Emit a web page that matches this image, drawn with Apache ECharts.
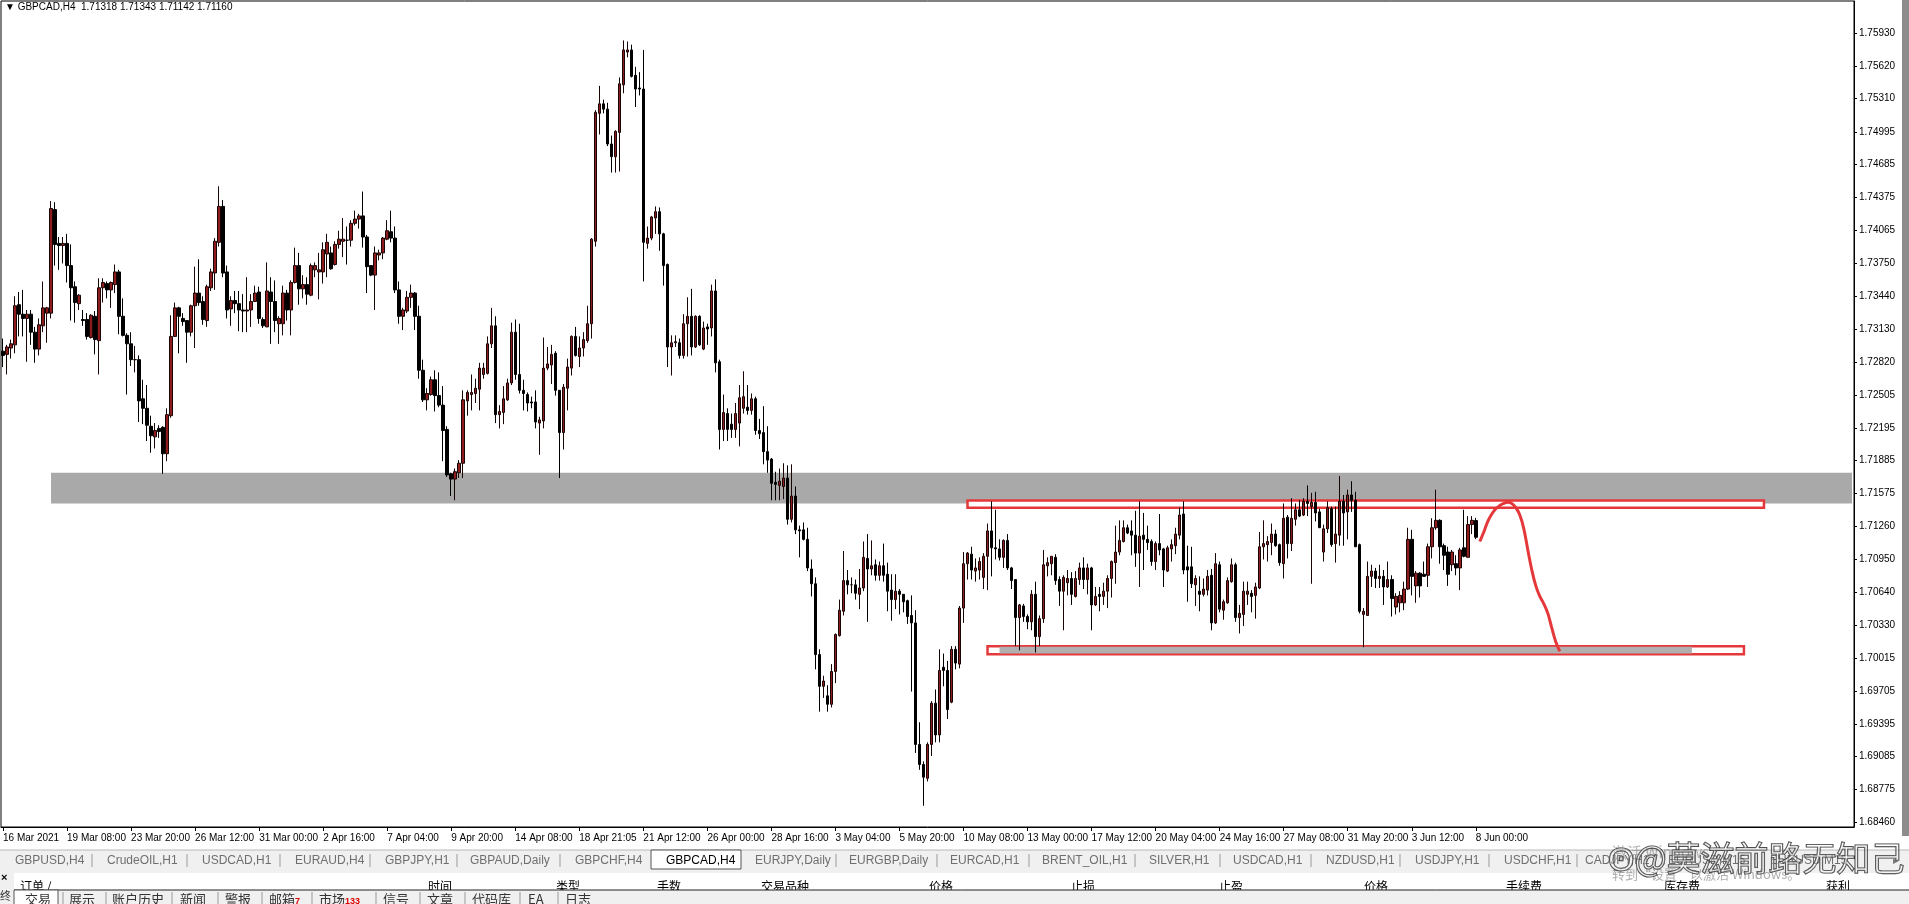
<!DOCTYPE html>
<html><head><meta charset="utf-8">
<script src="https://cdn.jsdelivr.net/npm/echarts@6/dist/echarts.min.js"></script>
<style>html,body{margin:0;padding:0;background:#fff;overflow:hidden}#c{width:1909px;height:904px}</style>
</head><body><div id="c"></div>
<script>
const headerText = 'GBPCAD,H4  1.71318 1.71343 1.71142 1.71160';
const xTickLabels = ['16 Mar 2021','19 Mar 08:00','23 Mar 20:00','26 Mar 12:00','31 Mar 00:00','2 Apr 16:00','7 Apr 04:00','9 Apr 20:00','14 Apr 08:00','18 Apr 21:05','21 Apr 12:00','26 Apr 00:00','28 Apr 16:00','3 May 04:00','5 May 20:00','10 May 08:00','13 May 00:00','17 May 12:00','20 May 04:00','24 May 16:00','27 May 08:00','31 May 20:00','3 Jun 12:00','8 Jun 00:00'];
const yTickLabels = ['1.75930','1.75620','1.75310','1.74995','1.74685','1.74375','1.74065','1.73750','1.73440','1.73130','1.72820','1.72505','1.72195','1.71885','1.71575','1.71260','1.70950','1.70640','1.70330','1.70015','1.69705','1.69395','1.69085','1.68775','1.68460'];
const opens = [
1.7292,1.7289,1.7295,1.7298,1.7336,1.7327,1.7323,1.7327,1.7310,1.7294,1.7316,1.7328,1.7328,1.7426,1.7394,1.7392,1.7394,1.7373,1.7353,1.7337,
1.7322,1.7322,1.7305,1.7325,1.7302,1.7352,1.7356,1.7350,1.7355,1.7367,1.7325,1.7307,1.7299,1.7284,1.7284,1.7247,1.7238,1.7221,1.7211,1.7219,
1.7220,1.7195,1.7231,1.7306,1.7333,1.7323,1.7321,1.7310,1.7335,1.7347,1.7339,1.7321,1.7352,1.7366,1.7395,1.7429,1.7367,1.7332,1.7340,1.7337,
1.7331,1.7330,1.7331,1.7339,1.7348,1.7322,1.7315,1.7348,1.7339,1.7318,1.7318,1.7347,1.7331,1.7357,1.7373,1.7351,1.7355,1.7345,1.7369,1.7367,
1.7367,1.7384,1.7385,1.7374,1.7393,1.7396,1.7397,1.7397,1.7413,1.7417,1.7420,1.7400,1.7373,1.7364,1.7383,1.7385,1.7398,1.7405,1.7399,1.7350,
1.7325,1.7330,1.7343,1.7347,1.7325,1.7274,1.7246,1.7251,1.7265,1.7250,1.7241,1.7218,1.7176,1.7171,1.7177,1.7186,1.7245,1.7251,1.7252,1.7256,
1.7270,1.7271,1.7299,1.7316,1.7232,1.7234,1.7246,1.7262,1.7310,1.7270,1.7255,1.7251,1.7244,1.7244,1.7224,1.7226,1.7276,1.7279,1.7290,1.7255,
1.7215,1.7257,1.7276,1.7306,1.7287,1.7295,1.7302,1.7318,1.7396,1.7517,1.7526,1.7521,1.7488,1.7476,1.7499,1.7544,1.7575,1.7577,1.7553,1.7541,
1.7540,1.7394,1.7399,1.7418,1.7424,1.7403,1.7374,1.7296,1.7300,1.7300,1.7288,1.7318,1.7325,1.7296,1.7325,1.7294,1.7315,1.7314,1.7349,1.7282,
1.7218,1.7233,1.7223,1.7218,1.7224,1.7238,1.7239,1.7236,1.7247,1.7217,1.7215,1.7197,1.7190,1.7168,1.7165,1.7164,1.7172,1.7133,1.7155,1.7123,
1.7123,1.7114,1.7086,1.7072,1.7005,1.6975,1.6966,1.6958,1.6989,1.7023,1.7046,1.7075,1.7071,1.7071,1.7062,1.7068,1.7096,1.7086,1.7090,1.7080,
1.7089,1.7081,1.7066,1.7057,1.7065,1.7062,1.7056,1.7042,1.7035,1.6920,1.6901,1.6888,1.6920,1.6959,1.6929,1.6993,1.6990,1.6960,1.7010,1.6996,
1.7049,1.7091,1.7100,1.7084,1.7085,1.7078,1.7098,1.7122,1.7106,1.7105,1.7097,1.7113,1.7087,1.7076,1.7040,1.7051,1.7041,1.7036,1.7062,1.7022,
1.7039,1.7089,1.7091,1.7097,1.7076,1.7065,1.7073,1.7077,1.7060,1.7076,1.7087,1.7076,1.7087,1.7052,1.7062,1.7060,1.7065,1.7077,1.7092,1.7102,
1.7112,1.7125,1.7122,1.7118,1.7101,1.7118,1.7114,1.7112,1.7093,1.7110,1.7105,1.7084,1.7105,1.7108,1.7118,1.7138,1.7088,1.7088,1.7071,1.7065,
1.7062,1.7066,1.7080,1.7035,1.7090,1.7047,1.7054,1.7074,1.7090,1.7040,1.7043,1.7062,1.7063,1.7061,1.7068,1.7107,1.7109,1.7111,1.7119,1.7109,
1.7091,1.7135,1.7110,1.7133,1.7142,1.7137,1.7150,1.7145,1.7149,1.7140,1.7102,1.7124,1.7143,1.7110,1.7118,1.7150,1.7140,1.7156,1.7151,1.7109,
1.7043,1.7042,1.7079,1.7084,1.7077,1.7079,1.7069,1.7076,1.7050,1.7054,1.7054,1.7067,1.7114,1.7070,1.7082,1.7081,1.7080,1.7107,1.7125,1.7132,
1.7108,1.7102,1.7090,1.7091,1.7087,1.7106,1.7097,1.7128,1.71318];
const highs = [
1.7304,1.7298,1.7303,1.7344,1.7348,1.7350,1.7331,1.7331,1.7315,1.7323,1.7358,1.7334,1.7434,1.7433,1.7400,1.7400,1.7403,1.7393,1.7358,1.7346,
1.7331,1.7328,1.7327,1.7330,1.7361,1.7361,1.7358,1.7358,1.7374,1.7369,1.7342,1.7309,1.7310,1.7297,1.7288,1.7265,1.7260,1.7231,1.7224,1.7222,
1.7221,1.7238,1.7326,1.7338,1.7334,1.7328,1.7321,1.7336,1.7372,1.7379,1.7344,1.7355,1.7370,1.7399,1.7448,1.7435,1.7373,1.7344,1.7349,1.7349,
1.7346,1.7362,1.7346,1.7354,1.7353,1.7324,1.7376,1.7362,1.7359,1.7325,1.7354,1.7350,1.7359,1.7390,1.7385,1.7364,1.7362,1.7375,1.7376,1.7385,
1.7395,1.7403,1.7391,1.7396,1.7406,1.7418,1.7410,1.7416,1.7425,1.7422,1.7443,1.7402,1.7373,1.7391,1.7388,1.7400,1.7416,1.7425,1.7410,1.7358,
1.7333,1.7349,1.7355,1.7348,1.7335,1.7284,1.7257,1.7268,1.7274,1.7272,1.7259,1.7221,1.7177,1.7181,1.7189,1.7255,1.7255,1.7270,1.7266,1.7281,
1.7281,1.7306,1.7333,1.7325,1.7241,1.7259,1.7266,1.7319,1.7322,1.7318,1.7265,1.7253,1.7249,1.7255,1.7230,1.7305,1.7296,1.7298,1.7292,1.7255,
1.7261,1.7285,1.7307,1.7315,1.7306,1.7310,1.7335,1.7399,1.7520,1.7543,1.7530,1.7527,1.7496,1.7501,1.7551,1.7586,1.7585,1.7582,1.7561,1.7556,
1.7577,1.7410,1.7420,1.7429,1.7428,1.7404,1.7375,1.7307,1.7307,1.7304,1.7327,1.7343,1.7351,1.7326,1.7326,1.7320,1.7318,1.7355,1.7360,1.7284,
1.7251,1.7238,1.7233,1.7243,1.7260,1.7273,1.7260,1.7252,1.7249,1.7228,1.7240,1.7221,1.7191,1.7178,1.7181,1.7186,1.7184,1.7185,1.7164,1.7127,
1.7130,1.7125,1.7095,1.7078,1.7010,1.6985,1.6976,1.6996,1.7025,1.7057,1.7103,1.7085,1.7078,1.7076,1.7086,1.7112,1.7119,1.7113,1.7095,1.7093,
1.7110,1.7092,1.7081,1.7081,1.7067,1.7062,1.7057,1.7061,1.7047,1.6941,1.6904,1.6922,1.6961,1.6972,1.7010,1.7006,1.6999,1.7013,1.7013,1.7051,
1.7102,1.7102,1.7107,1.7096,1.7097,1.7101,1.7129,1.7150,1.7142,1.7114,1.7114,1.7119,1.7088,1.7076,1.7053,1.7053,1.7043,1.7066,1.7074,1.7042,
1.7104,1.7097,1.7098,1.7100,1.7079,1.7080,1.7085,1.7083,1.7084,1.7092,1.7097,1.7091,1.7088,1.7069,1.7069,1.7073,1.7080,1.7094,1.7127,1.7132,
1.7132,1.7128,1.7132,1.7141,1.7150,1.7139,1.7127,1.7114,1.7112,1.7138,1.7106,1.7108,1.7114,1.7125,1.7144,1.7150,1.7108,1.7107,1.7080,1.7079,
1.7077,1.7085,1.7086,1.7101,1.7093,1.7057,1.7078,1.7096,1.7092,1.7052,1.7074,1.7074,1.7066,1.7073,1.7121,1.7132,1.7117,1.7129,1.7123,1.7110,
1.7148,1.7137,1.7153,1.7148,1.7151,1.7153,1.7165,1.7158,1.7159,1.7143,1.7128,1.7150,1.7145,1.7145,1.7174,1.7156,1.7161,1.7169,1.7159,1.7110,
1.7049,1.7093,1.7090,1.7087,1.7090,1.7085,1.7093,1.7080,1.7063,1.7065,1.7074,1.7125,1.7123,1.7084,1.7083,1.7093,1.7110,1.7134,1.7161,1.7133,
1.7110,1.7107,1.7104,1.7099,1.7106,1.7142,1.7136,1.7136,1.71343];
const lows = [
1.7277,1.7270,1.7285,1.7290,1.7306,1.7306,1.7282,1.7298,1.7281,1.7288,1.7310,1.7300,1.7323,1.7373,1.7369,1.7375,1.7357,1.7321,1.7319,1.7331,
1.7316,1.7303,1.7304,1.7289,1.7270,1.7338,1.7342,1.7333,1.7347,1.7308,1.7306,1.7251,1.7278,1.7272,1.7225,1.7223,1.7207,1.7196,1.7200,1.7210,
1.7176,1.7188,1.7229,1.7306,1.7290,1.7316,1.7281,1.7306,1.7295,1.7335,1.7317,1.7315,1.7349,1.7350,1.7391,1.7362,1.7323,1.7316,1.7328,1.7311,
1.7310,1.7310,1.7315,1.7339,1.7318,1.7314,1.7315,1.7299,1.7310,1.7299,1.7307,1.7321,1.7307,1.7356,1.7336,1.7342,1.7336,1.7344,1.7362,1.7341,
1.7356,1.7362,1.7369,1.7373,1.7389,1.7381,1.7374,1.7391,1.7411,1.7408,1.7390,1.7347,1.7363,1.7331,1.7378,1.7379,1.7397,1.7395,1.7347,1.7318,
1.7312,1.7328,1.7333,1.7312,1.7266,1.7244,1.7236,1.7250,1.7235,1.7239,1.7188,1.7173,1.7155,1.7151,1.7172,1.7172,1.7231,1.7236,1.7243,1.7236,
1.7266,1.7270,1.7295,1.7224,1.7219,1.7223,1.7245,1.7260,1.7265,1.7252,1.7236,1.7235,1.7238,1.7219,1.7194,1.7219,1.7274,1.7261,1.7250,1.7172,
1.7199,1.7236,1.7269,1.7287,1.7277,1.7287,1.7300,1.7304,1.7391,1.7497,1.7517,1.7486,1.7461,1.7461,1.7462,1.7536,1.7570,1.7551,1.7523,1.7534,
1.7358,1.7389,1.7397,1.7403,1.7387,1.7354,1.7277,1.7269,1.7296,1.7285,1.7285,1.7287,1.7288,1.7295,1.7297,1.7293,1.7298,1.7306,1.7272,1.7199,
1.7207,1.7207,1.7210,1.7210,1.7202,1.7233,1.7232,1.7232,1.7213,1.7209,1.7185,1.7177,1.7151,1.7151,1.7151,1.7152,1.7128,1.7130,1.7119,1.7097,
1.7113,1.7084,1.7060,1.6991,1.6951,1.6964,1.6951,1.6955,1.6978,1.7022,1.7042,1.7062,1.7063,1.7057,1.7048,1.7065,1.7036,1.7080,1.7075,1.7075,
1.7074,1.7046,1.7037,1.7048,1.7043,1.7045,1.7034,1.6970,1.6912,1.6896,1.6862,1.6885,1.6909,1.6922,1.6922,1.6975,1.6944,1.6959,1.6991,1.6992,
1.7035,1.7076,1.7076,1.7074,1.7076,1.7067,1.7066,1.7079,1.7095,1.7094,1.7087,1.7085,1.7067,1.7013,1.7009,1.7036,1.7029,1.7028,1.7007,1.7013,
1.7035,1.7079,1.7080,1.7071,1.7051,1.7028,1.7061,1.7052,1.7059,1.7071,1.7067,1.7062,1.7028,1.7051,1.7046,1.7052,1.7049,1.7059,1.7072,1.7099,
1.7111,1.7119,1.7099,1.7088,1.7069,1.7085,1.7104,1.7089,1.7085,1.7099,1.7069,1.7083,1.7093,1.7100,1.7114,1.7081,1.7055,1.7068,1.7051,1.7046,
1.7060,1.7061,1.7028,1.7034,1.7045,1.7038,1.7053,1.7073,1.7036,1.7025,1.7032,1.7052,1.7045,1.7039,1.7067,1.7095,1.7093,1.7099,1.7107,1.7089,
1.7077,1.7096,1.7103,1.7127,1.7135,1.7136,1.7136,1.7072,1.7131,1.7125,1.7093,1.7120,1.7107,1.7092,1.7108,1.7108,1.7114,1.7140,1.7107,1.7044,
1.7012,1.7042,1.7069,1.7068,1.7068,1.7052,1.7068,1.7041,1.7043,1.7045,1.7047,1.7066,1.7061,1.7054,1.7059,1.7079,1.7069,1.7096,1.7123,1.7091,
1.7085,1.7070,1.7084,1.7080,1.7066,1.7097,1.7097,1.7119,1.71142];
const closes = [
1.7288,1.7296,1.7299,1.7335,1.7327,1.7323,1.7327,1.7310,1.7294,1.7317,1.7333,1.7333,1.7427,1.7393,1.7392,1.7394,1.7373,1.7352,1.7338,1.7345,
1.7321,1.7306,1.7326,1.7303,1.7352,1.7357,1.7350,1.7357,1.7367,1.7325,1.7307,1.7299,1.7284,1.7284,1.7245,1.7238,1.7222,1.7212,1.7217,1.7216,
1.7195,1.7232,1.7306,1.7333,1.7325,1.7320,1.7310,1.7335,1.7347,1.7338,1.7322,1.7353,1.7367,1.7396,1.7429,1.7366,1.7331,1.7340,1.7337,1.7331,
1.7330,1.7331,1.7339,1.7347,1.7323,1.7316,1.7349,1.7339,1.7321,1.7323,1.7347,1.7331,1.7357,1.7373,1.7351,1.7355,1.7346,1.7373,1.7373,1.7369,
1.7388,1.7395,1.7370,1.7393,1.7398,1.7398,1.7397,1.7413,1.7417,1.7420,1.7400,1.7372,1.7364,1.7385,1.7385,1.7399,1.7406,1.7399,1.7350,1.7325,
1.7331,1.7343,1.7347,1.7325,1.7274,1.7246,1.7252,1.7265,1.7250,1.7241,1.7217,1.7175,1.7171,1.7178,1.7186,1.7246,1.7253,1.7253,1.7257,1.7276,
1.7276,1.7299,1.7316,1.7232,1.7235,1.7247,1.7262,1.7310,1.7270,1.7255,1.7252,1.7243,1.7243,1.7225,1.7227,1.7276,1.7280,1.7289,1.7255,1.7215,
1.7258,1.7277,1.7306,1.7288,1.7295,1.7303,1.7318,1.7398,1.7518,1.7526,1.7521,1.7488,1.7476,1.7500,1.7545,1.7577,1.7577,1.7552,1.7540,1.7540,
1.7395,1.7399,1.7419,1.7424,1.7403,1.7373,1.7296,1.7300,1.7301,1.7288,1.7318,1.7325,1.7296,1.7325,1.7298,1.7314,1.7313,1.7349,1.7281,1.7218,
1.7234,1.7218,1.7218,1.7233,1.7248,1.7249,1.7236,1.7247,1.7217,1.7214,1.7197,1.7189,1.7167,1.7166,1.7169,1.7172,1.7133,1.7155,1.7123,1.7122,
1.7114,1.7087,1.7072,1.7005,1.6975,1.6980,1.6958,1.6989,1.7024,1.7047,1.7075,1.7071,1.7071,1.7063,1.7068,1.7097,1.7086,1.7089,1.7080,1.7089,
1.7080,1.7065,1.7057,1.7065,1.7062,1.7055,1.7041,1.7035,1.6920,1.6901,1.6889,1.6920,1.6959,1.6929,1.6990,1.6990,1.6953,1.7010,1.6997,1.7049,
1.7091,1.7101,1.7085,1.7087,1.7093,1.7098,1.7122,1.7106,1.7105,1.7097,1.7113,1.7087,1.7075,1.7040,1.7052,1.7041,1.7036,1.7062,1.7022,1.7039,
1.7090,1.7092,1.7098,1.7075,1.7065,1.7078,1.7077,1.7062,1.7077,1.7087,1.7076,1.7087,1.7052,1.7060,1.7060,1.7065,1.7077,1.7093,1.7102,1.7113,
1.7125,1.7120,1.7118,1.7101,1.7117,1.7114,1.7111,1.7093,1.7110,1.7104,1.7085,1.7106,1.7109,1.7119,1.7137,1.7085,1.7085,1.7072,1.7077,1.7062,
1.7067,1.7079,1.7035,1.7091,1.7048,1.7055,1.7075,1.7090,1.7040,1.7044,1.7065,1.7065,1.7060,1.7069,1.7107,1.7110,1.7112,1.7119,1.7108,1.7092,
1.7134,1.7110,1.7134,1.7142,1.7136,1.7150,1.7148,1.7149,1.7139,1.7125,1.7124,1.7144,1.7109,1.7119,1.7150,1.7139,1.7156,1.7151,1.7107,1.7046,
1.7046,1.7079,1.7084,1.7077,1.7079,1.7069,1.7076,1.7058,1.7060,1.7061,1.7067,1.7114,1.7079,1.7082,1.7070,1.7079,1.7107,1.7125,1.7132,1.7107,
1.7099,1.7081,1.7102,1.7087,1.7104,1.7098,1.7128,1.7132,1.71160];
const resistanceZone = [1.7148, 1.7177];
const upperBox = [1.71440, 1.71507];
const lowerBox = [1.70053, 1.70130];
const lowerStrip = [1.70060, 1.70124];
const pathBars = [369,370,371,372,373,374,375,376,377,378,379,380,381,382,383,384,385,386,387,388,389];
const pathPrices = [1.7112,1.7121,1.7131,1.7138,1.7143,1.7146,1.7148,1.7149,1.7148,1.7144,1.7137,1.7124,1.7104,1.7085,1.7070,1.7060,1.7053,1.7044,1.7030,1.7017,1.7008];
const symbolTabs = ['GBPUSD,H4','CrudeOIL,H1','USDCAD,H1','EURAUD,H4','GBPJPY,H1','GBPAUD,Daily','GBPCHF,H4','GBPCAD,H4','EURJPY,Daily','EURGBP,Daily','EURCAD,H1','BRENT_OIL,H1','SILVER,H1','USDCAD,H1','NZDUSD,H1','USDJPY,H1','USDCHF,H1','CADJPY,H1','EURUSD,M15','EURUSD,M15'];
const termCols = ['订单 /','时间','类型','手数','交易品种','价格','止损','止盈','价格','手续费','库存费','获利'];
const termTabs = ['交易','展示','账户历史','新闻','警报','邮箱','市场','信号','文章','代码库','EA','日志'];

const totalSlots = 463;
const categories = Array.from({length: totalSlots}, (_, i) => String(i));
const candleData = opens.map((o, i) => [o, closes[i], lows[i], highs[i]]);
const lastClose = closes[closes.length - 1];
const yTicks = yTickLabels.map(Number);

const FONT = 'Liberation Sans, Arial, sans-serif';
const CJK = 'Noto Sans CJK SC, sans-serif';

// ---- UI chrome (MT4 window parts) ----
const g = [];
g.push({type:'text', left:5, top:2, style:{text:'\u25BC ' + headerText, font:'10px ' + FONT, fill:'#000'}});
g.push({type:'rect', shape:{x:1902, y:0, width:7, height:836}, style:{fill:'#8c8c8c'}});
g.push({type:'rect', shape:{x:0, y:850, width:1909, height:20}, style:{fill:'#f0f0f0'}});
g.push({type:'line', shape:{x1:0, y1:850, x2:1909, y2:850}, style:{stroke:'#b8b8b8', lineWidth:1}});
const tabX = [15,107,202,295,385,470,575,666,755,849,950,1042,1149,1233,1326,1415,1504,1585,1668,1770];
const sepX = [92,187,280,370,457,560,836,937,1029,1135,1220,1311,1400,1489,1577,1655,1755];
g.push({type:'rect', shape:{x:651, y:850, width:90, height:19}, style:{fill:'#fff', stroke:'#555', lineWidth:1}});
symbolTabs.forEach((t, k) => {
  g.push({type:'text', x:tabX[k], y:861, style:{text:t, font:'12px ' + FONT, fill: k === 7 ? '#000' : '#6f6f6f', verticalAlign:'middle'}});
});
sepX.forEach(x => g.push({type:'line', shape:{x1:x, y1:854, x2:x, y2:867}, style:{stroke:'#9a9a9a', lineWidth:1}}));
g.push({type:'text', x:1893, y:861, style:{text:'\u25B8', font:'11px ' + FONT, fill:'#777', verticalAlign:'middle'}});
g.push({type:'rect', shape:{x:0, y:870, width:1909, height:34}, style:{fill:'#f0f0f0'}});
g.push({type:'rect', shape:{x:14, y:873, width:1895, height:17}, style:{fill:'#fff'}});
const colX = [20,428,556,657,761,929,1071,1219,1364,1506,1664,1826];
termCols.forEach((t, k) => g.push({type:'text', x:colX[k], y:886, style:{text:t, font:'12px ' + CJK, fill:'#000', verticalAlign:'middle'}}));
g.push({type:'rect', shape:{x:14, y:890, width:1895, height:14}, style:{fill:'#f0f0f0'}});
g.push({type:'line', shape:{x1:14, y1:890, x2:1909, y2:890}, style:{stroke:'#222', lineWidth:1}});
const ttX = [25,69,112,180,225,269,319,383,427,472,528,565];
g.push({type:'rect', shape:{x:14, y:890, width:44, height:16}, style:{fill:'#fff', stroke:'#555', lineWidth:1}});
termTabs.forEach((t, k) => {
  g.push({type:'text', x:ttX[k], y:899, style:{text:t, font:'13px ' + CJK, fill:'#333', verticalAlign:'middle'}});
});
g.push({type:'text', x:295, y:902, style:{text:'7', font:'bold 9px ' + FONT, fill:'#d00', verticalAlign:'middle'}});
g.push({type:'text', x:345, y:902, style:{text:'133', font:'bold 9px ' + FONT, fill:'#d00', verticalAlign:'middle'}});
[63,106,172,218,262,312,376,420,465,520,558].forEach(x => g.push({type:'line', shape:{x1:x, y1:892, x2:x, y2:904}, style:{stroke:'#999', lineWidth:1}}));
g.push({type:'text', x:1, y:878, style:{text:'\u00D7', font:'bold 11px ' + FONT, fill:'#000', verticalAlign:'middle'}});
g.push({type:'text', x:0, y:896, style:{text:'终', font:'11px ' + CJK, fill:'#333', verticalAlign:'middle'}});
g.push({type:'text', x:1612, y:852, style:{text:'激活 Windows', font:'15px ' + CJK, fill:'rgba(120,120,120,0.55)', verticalAlign:'middle'}});
g.push({type:'text', x:1612, y:874, style:{text:'转到“设置”以激活 Windows。', font:'13px ' + CJK, fill:'rgba(120,120,120,0.6)', verticalAlign:'middle'}});
g.push({type:'text', x:1608, y:858, style:{text:'ʘ@莫滋前路无知己', font:'34px ' + CJK, fill:'rgba(255,255,255,0.35)', stroke:'#3a3a3a', lineWidth:1.2, verticalAlign:'middle'}});

const chart = echarts.init(document.getElementById('c'), null, {renderer:'canvas'});
chart.setOption({
  animation:false,
  backgroundColor:'#fff',
  grid:{left:1, right:55, top:1, bottom:77, show:true, borderColor:'#000', borderWidth:1, backgroundColor:'#fff'},
  xAxis:{type:'category', data:categories, boundaryGap:true,
    axisLine:{show:true, lineStyle:{color:'#000', width:1}},
    axisTick:{show:true, alignWithLabel:true, length:4, interval:(i) => i % 16 === 0 && i / 16 < xTickLabels.length, lineStyle:{color:'#000'}},
    axisLabel:{show:true, interval:(i) => i % 16 === 0 && i / 16 < xTickLabels.length, align:'left', margin:6, color:'#000', fontSize:10, fontFamily:FONT,
      formatter:(v) => xTickLabels[Number(v) / 16] || ''},
    splitLine:{show:false}},
  yAxis:{type:'value', position:'right', min:1.68419, max:1.76233, scale:true,
    axisLine:{show:true, lineStyle:{color:'#000'}},
    axisTick:{show:true, length:3, customValues:yTicks, lineStyle:{color:'#000'}},
    axisLabel:{show:true, customValues:yTicks, formatter:(v) => v.toFixed(5), margin:5, color:'#000', fontSize:10, fontFamily:FONT},
    splitLine:{show:false}},
  graphic:g,
  series:[
    {type:'candlestick', data:candleData, barWidth:3,
      itemStyle:{color:'#8e1c1c', color0:'#000', borderColor:'#1a0505', borderColor0:'#000', borderWidth:1},
      markArea:{silent:true, data:[
        [{coord:[12, resistanceZone[1]], itemStyle:{color:'#a9a9a9'}}, {coord:[462, resistanceZone[0]]}],
        [{coord:[241, upperBox[1]], itemStyle:{color:'#ffffff', borderColor:'#e5383b', borderWidth:2.5}}, {coord:[440, upperBox[0]]}],
        [{coord:[246, lowerBox[1]], itemStyle:{color:'#ffffff', borderColor:'#e5383b', borderWidth:2.5}}, {coord:[435, lowerBox[0]]}],
        [{coord:[249, lowerStrip[1]], itemStyle:{color:'#b0b0b0'}}, {coord:[422, lowerStrip[0]]}]
      ]},
      markLine:{silent:true, symbol:'none', data:[{yAxis:lastClose}], lineStyle:{opacity:0},
        label:{show:true, position:'end', distance:2, formatter:() => lastClose.toFixed(5), backgroundColor:'#000', color:'#fff', fontSize:10, fontFamily:FONT, padding:[2,4,1,4]}}
    },
    {type:'line', data:pathBars.map((b, k) => [b, pathPrices[k]]), smooth:0.4, showSymbol:false,
      lineStyle:{color:'#e5383b', width:3}, z:5}
  ]
});
</script></body></html>
